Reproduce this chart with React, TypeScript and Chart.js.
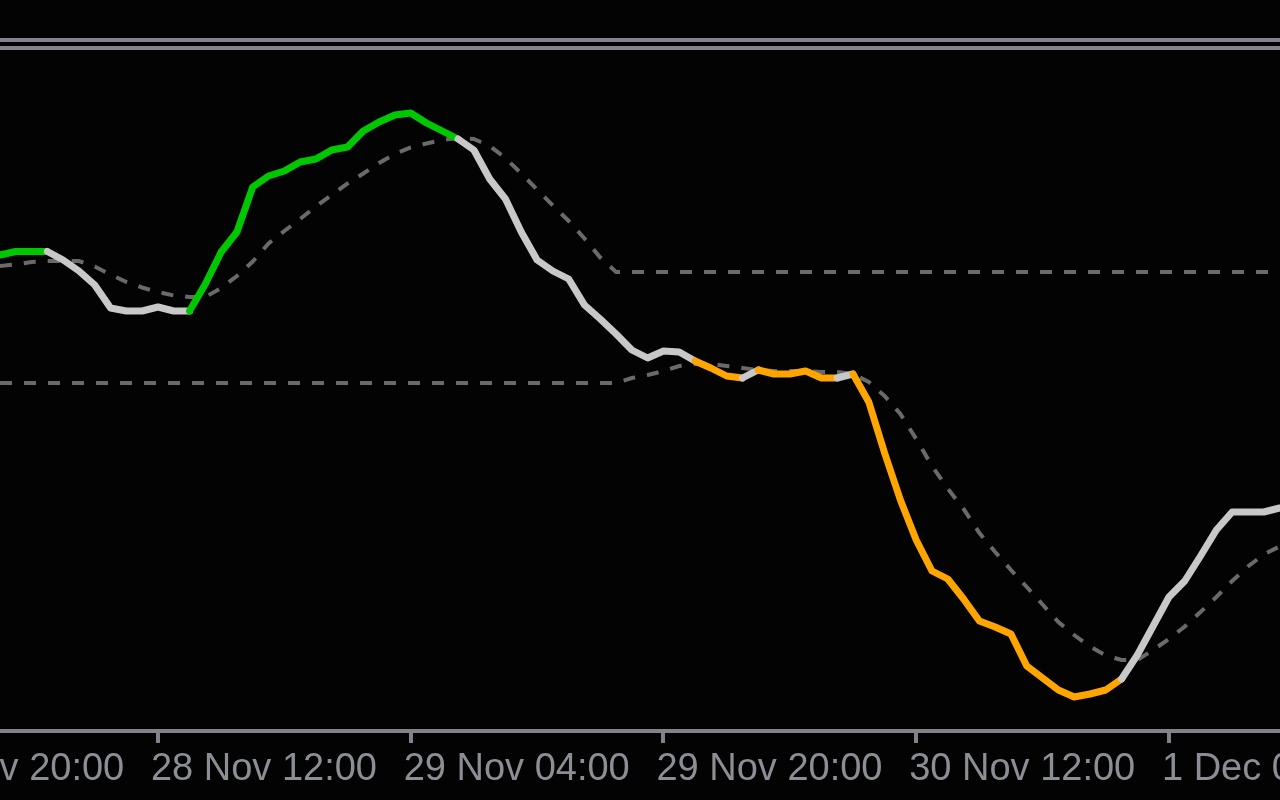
import React, { useEffect, useRef } from 'react';
import { Chart, registerables } from 'chart.js';

Chart.register(...registerables);

// Hours counted from 27 Nov 20:00; data starts at hour 6 (hourly samples)
const HOUR_START = 6;
const tickHours = [0, 16, 32, 48, 64, 80];
const tickLabels = ['27 Nov 20:00', '28 Nov 12:00', '29 Nov 04:00', '29 Nov 20:00', '30 Nov 12:00', '1 Dec 04:00'];

// Main oscillator line (hours 6..87)
const mainValues = [
  95.2, 95.9, 95.9, 95.9, 94.2, 92.0, 89.2, 84.6, 84.0, 84.0,
  84.8, 84.0, 84.0, 89.4, 95.8, 99.8, 108.8, 111.0, 112.0, 113.8,
  114.4, 116.2, 116.8, 120.0, 121.8, 123.2, 123.6, 121.6, 120.0, 118.4,
  116.2, 110.4, 106.4, 99.8, 94.2, 92.0, 90.4, 85.2, 82.4, 79.4,
  76.2, 74.6, 76.0, 75.8, 74.0, 72.6, 71.0, 70.6, 72.2, 71.4,
  71.4, 72.0, 70.6, 70.6, 71.4, 65.8, 55.6, 46.2, 38.2, 32.0,
  30.4, 26.4, 22.0, 20.8, 19.4, 13.0, 10.6, 8.2, 6.8, 7.4,
  8.2, 10.4, 15.2, 21.0, 26.8, 30.0, 35.0, 40.2, 43.8, 43.8,
  43.8, 44.6,
];

// Colour state of each segment starting at the point: G = up, N = neutral, O = down
const mainState = [
  'G', 'G', 'G', 'N', 'N', 'N', 'N', 'N', 'N', 'N',
  'N', 'N', 'G', 'G', 'G', 'G', 'G', 'G', 'G', 'G',
  'G', 'G', 'G', 'G', 'G', 'G', 'G', 'G', 'G', 'N',
  'N', 'N', 'N', 'N', 'N', 'N', 'N', 'N', 'N', 'N',
  'N', 'N', 'N', 'N', 'O', 'O', 'O', 'N', 'O', 'O',
  'O', 'O', 'O', 'N', 'O', 'O', 'O', 'O', 'O', 'O',
  'O', 'O', 'O', 'O', 'O', 'O', 'O', 'O', 'O', 'O',
  'O', 'N', 'N', 'N', 'N', 'N', 'N', 'N', 'N', 'N',
  'N', 'N',
];

// Upper dashed line (signal, then frozen level)
const upperLine = [
  93.0, 93.3, 93.8, 94.0, 94.0, 94.0, 92.9, 91.3, 89.8, 88.7,
  87.8, 87.1, 86.8, 86.8, 88.6, 91.0, 93.9, 97.5, 100.0, 102.4,
  104.9, 107.2, 109.5, 111.5, 113.6, 115.4, 116.7, 117.5, 118.2, 118.6,
  118.4, 117.0, 114.6, 111.5, 108.3, 105.1, 102.0, 98.5, 94.7, 91.8,
  91.8, 91.8, 91.8, 91.8, 91.8, 91.8, 91.8, 91.8, 91.8, 91.8,
  91.8, 91.8, 91.8, 91.8, 91.8, 91.8, 91.8, 91.8, 91.8, 91.8,
  91.8, 91.8, 91.8, 91.8, 91.8, 91.8, 91.8, 91.8, 91.8, 91.8,
  91.8, 91.8, 91.8, 91.8, 91.8, 91.8, 91.8, 91.8, 91.8, 91.8,
  91.8, 91.8,
];

// Lower dashed line (frozen level, then signal)
const lowerLine = [
  69.6, 69.6, 69.6, 69.6, 69.6, 69.6, 69.6, 69.6, 69.6, 69.6,
  69.6, 69.6, 69.6, 69.6, 69.6, 69.6, 69.6, 69.6, 69.6, 69.6,
  69.6, 69.6, 69.6, 69.6, 69.6, 69.6, 69.6, 69.6, 69.6, 69.6,
  69.6, 69.6, 69.6, 69.6, 69.6, 69.6, 69.6, 69.6, 69.6, 69.6,
  70.6, 71.2, 72.0, 73.0, 73.4, 73.4, 73.0, 72.6, 72.2, 72.0,
  72.0, 72.0, 71.8, 71.8, 71.4, 69.8, 67.0, 63.4, 58.4, 53.0,
  48.5, 44.4, 39.6, 35.8, 32.2, 28.8, 25.3, 21.8, 19.2, 16.9,
  15.1, 14.2, 14.2, 16.2, 18.4, 20.9, 23.8, 26.8, 30.0, 32.9,
  35.3, 36.9,
];

const BG = '#030304';
const AXIS = '#80838b';
const TEXT = '#8b8e95';
const DASH = '#6a6a6a';
const STATE_COLORS: Record<string, string> = { G: '#00c800', N: '#c8c8c8', O: '#ffa500' };

const PX_PER_HOUR = 252.75 / 16;
const CANVAS_LEFT = -120;
const CANVAS_W = 1660;
const CANVAS_H = 800;
const HOUR0_X = -94.8;
const X_MIN = (CANVAS_LEFT - HOUR0_X) / PX_PER_HOUR;
const X_MAX = (CANVAS_LEFT + CANVAS_W - HOUR0_X) / PX_PER_HOUR;
const AXIS_HEIGHT = 69;

const separatorPlugin = {
  id: 'separator',
  beforeDraw(chart: any) {
    const ctx = chart.ctx;
    ctx.save();
    ctx.fillStyle = AXIS;
    ctx.fillRect(0, 38, chart.width, 4);
    ctx.fillRect(0, 46, chart.width, 4);
    ctx.restore();
  },
};

export default function App() {
  const ref = useRef<HTMLCanvasElement>(null);

  useEffect(() => {
    document.body.style.margin = '0';
    document.body.style.background = BG;
    const canvas = ref.current;
    if (!canvas) return;
    const toPts = (arr: number[]) => arr.map((v, i) => ({ x: HOUR_START + i, y: v }));

    const chart = new Chart(canvas, {
      type: 'line',
      data: {
        datasets: [
          {
            data: toPts(mainValues),
            borderColor: STATE_COLORS.N,
            borderWidth: 7,
            pointRadius: 0,
            tension: 0,
            borderCapStyle: 'round',
            borderJoinStyle: 'round',
            segment: {
              borderColor: (c: any) => STATE_COLORS[mainState[c.p0DataIndex]],
            },
          } as any,
          {
            data: toPts(upperLine),
            borderColor: DASH,
            borderWidth: 4,
            borderDash: [12, 12],
            pointRadius: 0,
            tension: 0,
          },
          {
            data: toPts(lowerLine),
            borderColor: DASH,
            borderWidth: 4,
            borderDash: [12, 12],
            pointRadius: 0,
            tension: 0,
          },
        ],
      },
      options: {
        responsive: false,
        animation: false,
        devicePixelRatio: 1,
        events: [],
        layout: { padding: 0 },
        plugins: {
          legend: { display: false },
          tooltip: { enabled: false },
          title: { display: false },
        },
        scales: {
          x: {
            type: 'linear',
            min: X_MIN,
            max: X_MAX,
            afterBuildTicks: (scale: any) => {
              scale.ticks = tickHours.map((v) => ({ value: v }));
            },
            afterFit: (scale: any) => {
              scale.height = AXIS_HEIGHT;
            },
            border: { display: true, color: AXIS, width: 4 },
            grid: {
              display: true,
              drawOnChartArea: false,
              drawTicks: true,
              tickLength: 12,
              color: AXIS,
              lineWidth: 4,
            },
            ticks: {
              align: 'start',
              labelOffset: -7,
              padding: 4,
              color: TEXT,
              autoSkip: false,
              maxRotation: 0,
              minRotation: 0,
              font: { family: '"Liberation Sans", Arial, sans-serif', size: 38 },
              callback: (_v: any, i: number) => tickLabels[i],
            },
          },
          y: { display: false, min: 0, max: 146.2 },
        },
      } as any,
      plugins: [separatorPlugin],
    });
    return () => chart.destroy();
  }, []);

  return (
    <div style={{ position: 'relative', width: 1280, height: 800, overflow: 'hidden', background: BG }}>
      <canvas
        ref={ref}
        width={CANVAS_W}
        height={CANVAS_H}
        style={{ position: 'absolute', left: CANVAS_LEFT, top: 0, width: CANVAS_W, height: CANVAS_H }}
      />
    </div>
  );
}
